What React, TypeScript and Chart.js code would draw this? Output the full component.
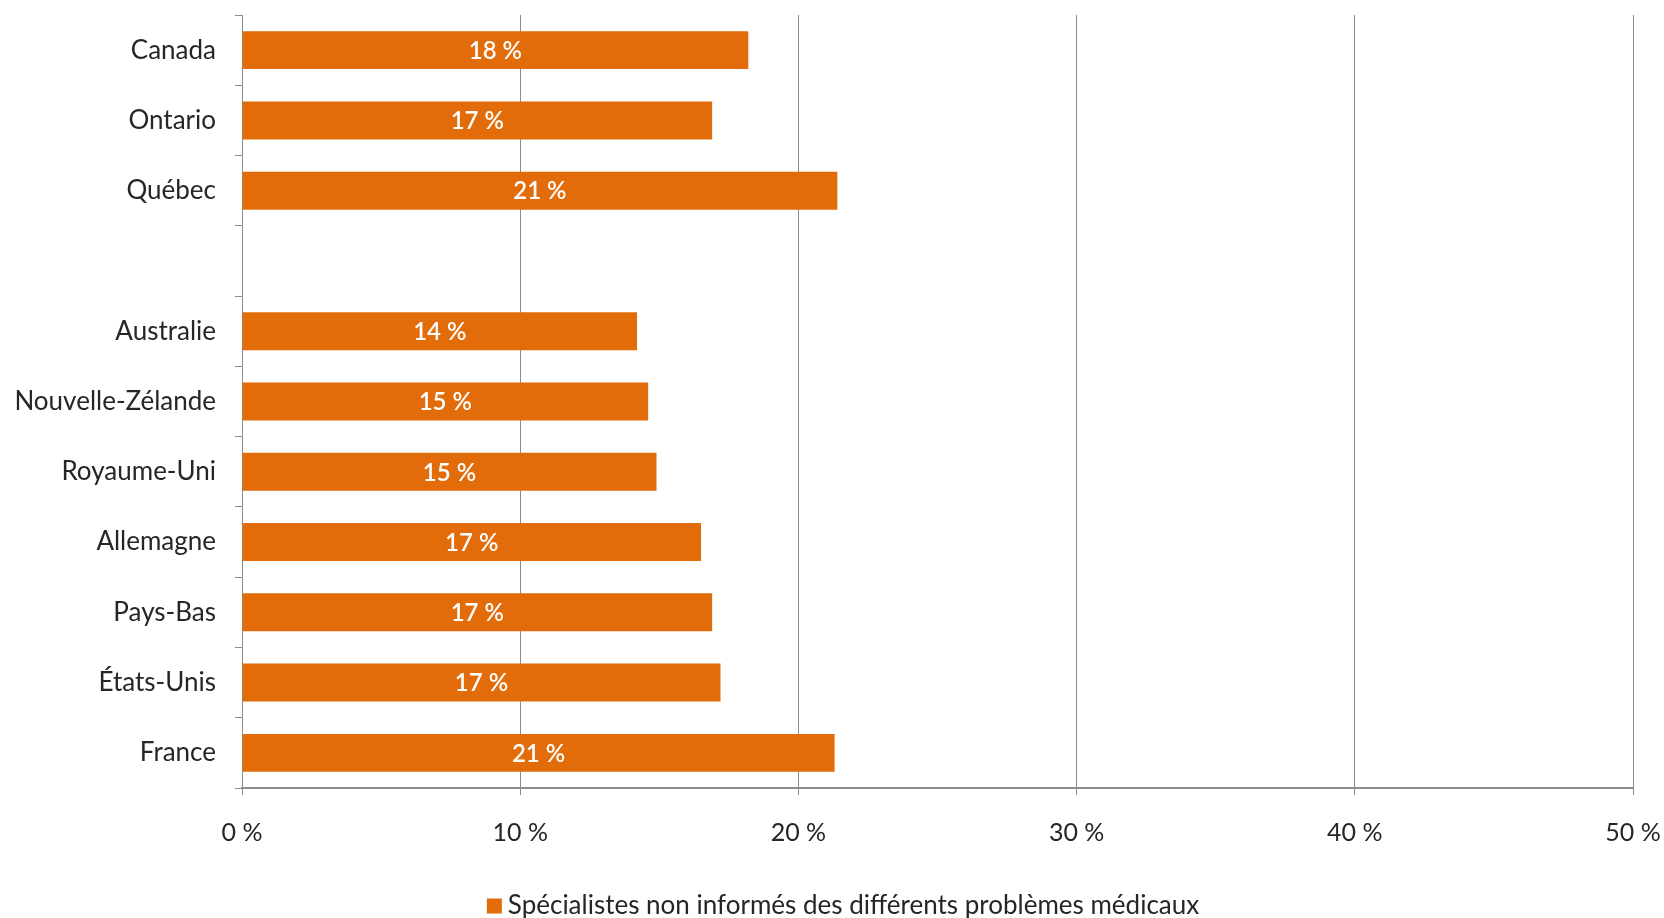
import React, { useEffect, useRef } from "react";
import { Chart, registerables } from "chart.js";

Chart.register(...registerables);

const categories = [
  "Canada",
  "Ontario",
  "Québec",
  "",
  "Australie",
  "Nouvelle-Zélande",
  "Royaume-Uni",
  "Allemagne",
  "Pays-Bas",
  "États-Unis",
  "France",
];
const values: (number | null)[] = [18.2, 16.9, 21.4, null, 14.2, 14.6, 14.9, 16.5, 16.9, 17.2, 21.3];
const valueLabels: (string | null)[] = ["18 %", "17 %", "21 %", null, "14 %", "15 %", "15 %", "17 %", "17 %", "17 %", "21 %"];
const xTicks = [0, 10, 20, 30, 40, 50];
const seriesName = "Spécialistes non informés des différents problèmes médicaux";

const FONT = "Lato";
const ORANGE = "#E36C0A";
const GRID = "#8c8c8c";
const TEXT = "#262626";

const barLabelPlugin = {
  id: "barLabels",
  afterDatasetsDraw(chart: any) {
    const ctx = chart.ctx;
    const meta = chart.getDatasetMeta(0);
    ctx.save();
    ctx.fillStyle = "#ffffff";
    ctx.font = `600 24px ${FONT}`;
    ctx.textAlign = "center";
    ctx.textBaseline = "middle";
    meta.data.forEach((el: any, i: number) => {
      const lbl = valueLabels[i];
      if (lbl == null || values[i] == null) return;
      const cx = (el.x + el.base) / 2;
      ctx.fillText(lbl, cx, el.y + 1);
    });
    ctx.restore();
  },
};

const legendPlugin = {
  id: "customLegend",
  afterDraw(chart: any) {
    const ctx = chart.ctx;
    const ds = chart.data.datasets[0];
    ctx.save();
    ctx.font = `26px ${FONT}`;
    const tw = ctx.measureText(ds.label).width;
    const box = 15;
    const gap = 6;
    const total = box + gap + tw;
    const centerX = 843;
    const cy = chart.chartArea.bottom + 95 + 23;
    const left = centerX - total / 2;
    ctx.fillStyle = ds.backgroundColor;
    ctx.fillRect(left, cy - box / 2, box, box);
    ctx.fillStyle = TEXT;
    ctx.textAlign = "left";
    ctx.textBaseline = "middle";
    ctx.fillText(ds.label, left + box + gap, cy);
    ctx.restore();
  },
};

export default function App() {
  const ref = useRef<HTMLCanvasElement>(null);
  useEffect(() => {
    if (!ref.current) return;
    const chart = new Chart(ref.current, {
      type: "bar",
      data: {
        labels: categories,
        datasets: [
          {
            label: seriesName,
            data: values,
            backgroundColor: ORANGE,
            borderWidth: 0,
            barPercentage: 0.54,
            categoryPercentage: 1,
          },
        ],
      },
      options: {
        indexAxis: "y",
        animation: false,
        responsive: true,
        maintainAspectRatio: false,
        layout: { padding: { left: 0, right: 31, top: 15, bottom: 46 } },
        plugins: {
          tooltip: { enabled: false },
          legend: { display: false },
        },
        scales: {
          x: {
            min: 0,
            max: 50,
            afterBuildTicks: (scale: any) => {
              scale.ticks = xTicks.map((v) => ({ value: v }));
            },
            afterFit: (scale: any) => {
              scale.height = 95;
              scale.paddingLeft = 0;
              scale.paddingRight = 0;
            },
            ticks: {
              callback: (v: any) => `${v} %`,
              font: { family: FONT, size: 25 },
              color: TEXT,
              padding: 23,
              maxRotation: 0,
            },
            grid: {
              color: GRID,
              lineWidth: 1,
              tickLength: 7,
              drawTicks: true,
            },
            border: { color: GRID, width: 2 },
          },
          y: {
            afterFit: (scale: any) => {
              scale.width = 242;
              scale.paddingTop = 0;
              scale.paddingBottom = 0;
            },
            ticks: {
              font: { family: FONT, size: 26 },
              color: TEXT,
              padding: 19,
              autoSkip: false,
            },
            grid: {
              drawOnChartArea: false,
              drawTicks: true,
              tickLength: 7,
              color: GRID,
              offset: true,
            },
            border: { color: GRID, width: 1 },
          },
        },
      },
      plugins: [barLabelPlugin, legendPlugin],
    } as any);
    return () => chart.destroy();
  }, []);
  return (
    <div style={{ position: "absolute", left: 0, top: 0, width: 1664, height: 929, background: "#fff" }}>
      <canvas ref={ref} />
    </div>
  );
}
